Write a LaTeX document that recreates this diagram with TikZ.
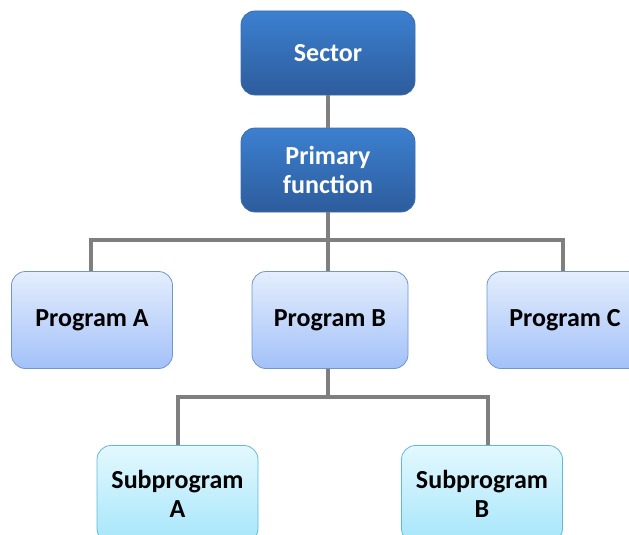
\documentclass[tikz,border=0pt]{standalone}
\usepackage{fontspec}
\setmainfont{Carlito}
\begin{document}
\begin{tikzpicture}[x=1pt,y=-1pt,
  box/.style={rounded corners=14pt, line width=0.8pt, align=center,
    font=\fontsize{26}{29}\selectfont\bfseries, inner sep=0pt},
  topbox/.style={box, draw=topedge, top color=toptop, bottom color=topbot,
    text=white, minimum width=174pt, minimum height=84pt},
  progbox/.style={box, draw=progedge, top color=progtop, bottom color=progbot,
    text=black, minimum width=158pt, minimum height=97pt},
  subbox/.style={box, draw=subedge, top color=subtop, bottom color=subbot,
    text=black, minimum width=161pt, minimum height=97pt},
  link/.style={draw=linkgrey, line width=4pt}]
\definecolor{toptop}{HTML}{3C80D0}
\definecolor{topbot}{HTML}{2D5C9C}
\definecolor{topedge}{HTML}{3D6CB0}
\definecolor{progtop}{HTML}{E4EEFD}
\definecolor{progbot}{HTML}{A3C1F8}
\definecolor{progedge}{HTML}{6F95D2}
\definecolor{subtop}{HTML}{E3F8FE}
\definecolor{subbot}{HTML}{A6E6FA}
\definecolor{subedge}{HTML}{5FB9D9}
\definecolor{linkgrey}{HTML}{7F7F7F}
\useasboundingbox (0,0) rectangle (629,535);

% upper levels
\node[topbox] (sector)  at (328,53)  {Sector};
\node[topbox] (primary) at (328,170) {Primary\\function};

% programs
\node[progbox, minimum width=161pt] (progA) at (92,320) {Program A};
\node[progbox, minimum width=156pt] (progB) at (330,320) {Program B};
\node[progbox, minimum width=156pt] (progC) at (565,320) {Program C};

% subprograms
\node[subbox] (subA) at (177.5,494) {Subprogram\\A};
\node[subbox] (subB) at (482,494) {Subprogram\\B};

% bus points
\coordinate (busP) at (328,240);
\coordinate (busS) at (328,397);

% connectors
\draw[link] (sector.south) -- (primary.north);
\draw[link] (primary.south) -- (busP);
\draw[link] (busP) -| ([xshift=-1pt]progA.north);
\draw[link] (busP) -| ([xshift=-2pt]progC.north);
\draw[link] (busP) -- (progB.north -| busP);
\draw[link] (progB.south -| busS) -- (busS);
\draw[link] (busS) -| (subA.north);
\draw[link] (busS) -| ([xshift=6pt]subB.north);
\end{tikzpicture}
\end{document}
